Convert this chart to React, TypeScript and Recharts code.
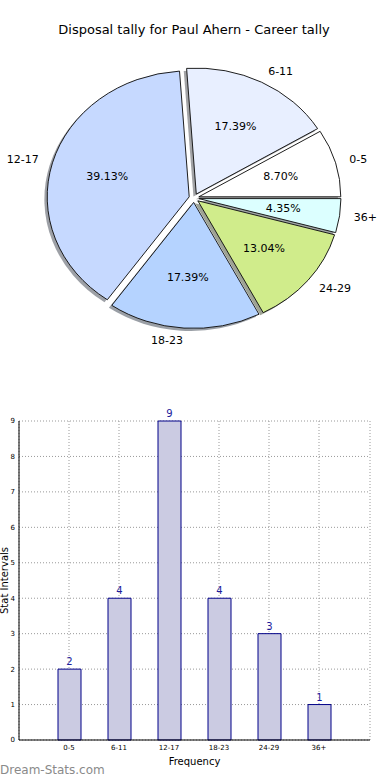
import React from 'react';
import { PieChart, Pie, Cell, BarChart, Bar, XAxis, YAxis, CartesianGrid, LabelList, Label } from 'recharts';

const categories = ['0-5', '6-11', '12-17', '18-23', '24-29', '36+'];
const tallies = [2, 4, 9, 4, 3, 1];
const yTicks = [0, 1, 2, 3, 4, 5, 6, 7, 8, 9];
const pieColors = ['#ffffff', '#e8efff', '#c6d9ff', '#b5d3ff', '#d0ec8b', '#dcffff'];

const pieData = categories.map((name, i) => ({ name, value: tallies[i] }));
const barData = categories.map((category, i) => ({ category, count: tallies[i] }));

const FONT = '"DejaVu Sans", sans-serif';
const K = 126 / 142; // vertical squash (elliptical pie)
const R = 142;
const CX = 194;
const CY = 198 / K;
const E = 0.035; // explode fraction
const SH = 0.02; // shadow offset fraction

const total = tallies.reduce((a, b) => a + b, 0);
const mids: number[] = [];
{
  let acc = 0;
  tallies.forEach((v) => {
    const s = (acc / total) * 360;
    acc += v;
    const e = (acc / total) * 360;
    mids.push((s + e) / 2);
  });
}

const shadowColor = (hex: string) => {
  const n = parseInt(hex.slice(1), 16);
  const r = Math.round(((n >> 16) & 255) * 0.3);
  const g = Math.round(((n >> 8) & 255) * 0.3);
  const b = Math.round((n & 255) * 0.3);
  return `rgb(${r},${g},${b})`;
};

const PieLabel = (props: any) => {
  const { cx, cy, midAngle, outerRadius, percent, name } = props;
  const rad = (midAngle * Math.PI) / 180;
  const c = Math.cos(rad);
  const s = Math.sin(rad);
  const nx = cx + (1.1 + E) * outerRadius * c;
  const ny = cy - (1.1 + E) * outerRadius * s;
  const px = cx + (0.6 + E) * outerRadius * c;
  const py = cy - (0.6 + E) * outerRadius * s;
  return (
    <g>
      <text
        transform={`translate(${nx} ${ny}) scale(1 ${1 / K})`}
        x={0}
        y={0}
        textAnchor={c > 0 ? 'start' : 'end'}
        dominantBaseline="central"
        fontSize={11}
        fontFamily={FONT}
        fill="#000"
      >
        {name}
      </text>
      <text
        transform={`translate(${px} ${py}) scale(1 ${1 / K})`}
        x={0}
        y={0}
        textAnchor="middle"
        dominantBaseline="central"
        fontSize={11}
        fontFamily={FONT}
        fill="#000"
      >
        {(percent * 100).toFixed(2)}%
      </text>
    </g>
  );
};

export default function App() {
  return (
    <div style={{ position: 'absolute', left: 0, top: 0, width: 390, height: 780, background: '#fff', fontFamily: FONT }}>
      <div
        style={{
          position: 'absolute',
          left: 0,
          top: 22,
          width: 388,
          textAlign: 'center',
          fontSize: 13,
          lineHeight: '16px',
          color: '#000',
        }}
      >
        Disposal tally for Paul Ahern - Career tally
      </div>
      <div
        style={{
          position: 'absolute',
          left: 0,
          top: 0,
          width: 390,
          height: 420,
          transform: `scaleY(${K})`,
          transformOrigin: '0 0',
        }}
      >
        <PieChart width={390} height={420} margin={{ top: 0, right: 0, bottom: 0, left: 0 }}>
          {tallies.map((_, i) => (
            <Pie
              key={'s' + i}
              data={pieData}
              dataKey="value"
              nameKey="name"
              cx={CX + E * R * Math.cos((mids[i] * Math.PI) / 180) - SH * R}
              cy={CY - E * R * Math.sin((mids[i] * Math.PI) / 180) + SH * R}
              outerRadius={R}
              startAngle={0}
              endAngle={360}
              isAnimationActive={false}
              labelLine={false}
            >
              {pieData.map((d, j) => (
                <Cell
                  key={j}
                  fill={j === i ? shadowColor(pieColors[j]) : 'none'}
                  fillOpacity={0.5}
                  stroke="none"
                />
              ))}
            </Pie>
          ))}
          {tallies.map((_, i) => (
            <Pie
              key={'f' + i}
              data={pieData}
              dataKey="value"
              nameKey="name"
              cx={CX + E * R * Math.cos((mids[i] * Math.PI) / 180)}
              cy={CY - E * R * Math.sin((mids[i] * Math.PI) / 180)}
              outerRadius={R}
              startAngle={0}
              endAngle={360}
              isAnimationActive={false}
              labelLine={false}
            >
              {pieData.map((d, j) => (
                <Cell
                  key={j}
                  fill={j === i ? pieColors[j] : 'none'}
                  stroke={j === i ? '#111' : 'none'}
                  strokeWidth={1}
                />
              ))}
            </Pie>
          ))}
          <Pie
            data={pieData}
            dataKey="value"
            nameKey="name"
            cx={CX}
            cy={CY}
            outerRadius={R}
            startAngle={0}
            endAngle={360}
            isAnimationActive={false}
            labelLine={false}
            label={PieLabel}
            fill="none"
            stroke="none"
          />
        </PieChart>
      </div>

      <div style={{ position: 'absolute', left: 0, top: 400, width: 390, height: 380 }}>
        <BarChart width={390} height={380} data={barData} margin={{ top: 21, right: 20, left: 0, bottom: 10 }}>
          <CartesianGrid stroke="#999" strokeDasharray="1 2" />
          <XAxis
            dataKey="category"
            padding={{ left: 25, right: 26 }}
            interval={0}
            height={30}
            tickLine={false}
            tickSize={2}
            tickMargin={3}
            tick={{ fontSize: 7, fill: '#000', fontFamily: FONT }}
            axisLine={{ stroke: '#000' }}
          >
            <Label
              value="Frequency"
              content={(p: any) => {
                const vb = p.viewBox;
                return (
                  <text
                    x={vb.x + vb.width / 2}
                    y={vb.y + 21}
                    textAnchor="middle"
                    dominantBaseline="central"
                    fontSize={10}
                    fontFamily={FONT}
                    fill="#000"
                  >
                    Frequency
                  </text>
                );
              }}
            />
          </XAxis>
          <XAxis
            xAxisId="top"
            orientation="top"
            dataKey="category"
            padding={{ left: 25, right: 26 }}
            height={0}
            tick={false}
            tickLine={false}
            axisLine={{ stroke: '#000' }}
          />
          <YAxis
            type="number"
            domain={[0, 9]}
            ticks={yTicks}
            interval={0}
            width={19}
            tickLine={false}
            tickSize={2}
            tickMargin={2}
            tick={{ fontSize: 7, fill: '#000', fontFamily: FONT }}
            axisLine={{ stroke: '#000' }}
          >
            <Label
              value="Stat Intervals"
              content={(p: any) => {
                const vb = p.viewBox;
                const y = vb.y + vb.height / 2;
                return (
                  <text
                    x={4}
                    y={y}
                    transform={`rotate(-90 4 ${y})`}
                    textAnchor="middle"
                    dominantBaseline="central"
                    fontSize={10}
                    fontFamily={FONT}
                    fill="#000"
                  >
                    Stat Intervals
                  </text>
                );
              }}
            />
          </YAxis>
          <YAxis
            yAxisId="right"
            orientation="right"
            type="number"
            domain={[0, 9]}
            width={0}
            tick={false}
            tickLine={false}
            axisLine={{ stroke: '#000' }}
          />
          <Bar dataKey="count" fill="#cbcbe2" stroke="#000088" strokeWidth={1} barSize={23} isAnimationActive={false}>
            <LabelList dataKey="count" position="top" offset={4} fill="#1c1c9c" fontSize={10} fontFamily={FONT} />
          </Bar>
        </BarChart>
      </div>

      <div
        style={{
          position: 'absolute',
          left: 0,
          top: 762,
          fontSize: 12,
          lineHeight: '16px',
          color: '#8a8a8a',
          fontFamily: FONT,
        }}
      >
        Dream-Stats.com
      </div>
    </div>
  );
}
